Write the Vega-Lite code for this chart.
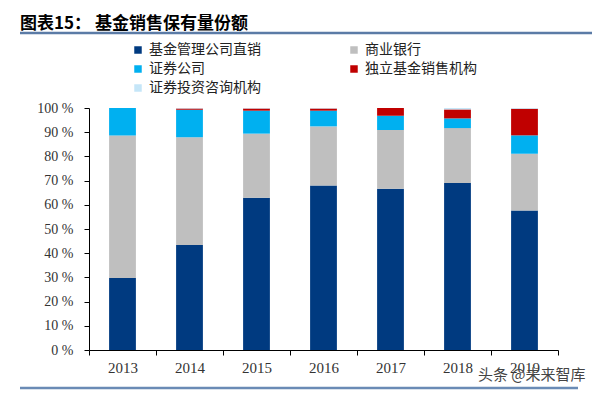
{
  "$schema": "https://vega.github.io/schema/vega-lite/v6.json",
  "width": 469,
  "height": 242,
  "autosize": "none",
  "padding": {"left": 89, "top": 108, "right": 42, "bottom": 43},
  "background": "white",
  "config": {"view": {"stroke": null}},
  "title": {
    "text": "图表15：  基金销售保有量份额",
    "anchor": "start",
    "frame": "group",
    "dx": -69,
    "dy": 11,
    "font": "Noto Sans CJK SC",
    "fontSize": 17,
    "fontWeight": "bold",
    "color": "#000000",
    "offset": 10
  },
  "layer": [
    {
      "data": {
        "values": [
          {"year": "2013", "type": "基金管理公司直销", "k": 1, "v": 29.8},
          {"year": "2013", "type": "商业银行", "k": 2, "v": 58.8},
          {"year": "2013", "type": "证券公司", "k": 3, "v": 11.4},
          {"year": "2013", "type": "独立基金销售机构", "k": 4, "v": 0},
          {"year": "2013", "type": "证券投资咨询机构", "k": 5, "v": 0},
          {"year": "2014", "type": "基金管理公司直销", "k": 1, "v": 43.4},
          {"year": "2014", "type": "商业银行", "k": 2, "v": 44.5},
          {"year": "2014", "type": "证券公司", "k": 3, "v": 11.4},
          {"year": "2014", "type": "独立基金销售机构", "k": 4, "v": 0.5},
          {"year": "2014", "type": "证券投资咨询机构", "k": 5, "v": 0.2},
          {"year": "2015", "type": "基金管理公司直销", "k": 1, "v": 62.9},
          {"year": "2015", "type": "商业银行", "k": 2, "v": 26.5},
          {"year": "2015", "type": "证券公司", "k": 3, "v": 9.5},
          {"year": "2015", "type": "独立基金销售机构", "k": 4, "v": 0.9},
          {"year": "2015", "type": "证券投资咨询机构", "k": 5, "v": 0.2},
          {"year": "2016", "type": "基金管理公司直销", "k": 1, "v": 68.0},
          {"year": "2016", "type": "商业银行", "k": 2, "v": 24.4},
          {"year": "2016", "type": "证券公司", "k": 3, "v": 6.5},
          {"year": "2016", "type": "独立基金销售机构", "k": 4, "v": 0.9},
          {"year": "2016", "type": "证券投资咨询机构", "k": 5, "v": 0.2},
          {"year": "2017", "type": "基金管理公司直销", "k": 1, "v": 66.6},
          {"year": "2017", "type": "商业银行", "k": 2, "v": 24.3},
          {"year": "2017", "type": "证券公司", "k": 3, "v": 5.9},
          {"year": "2017", "type": "独立基金销售机构", "k": 4, "v": 3.2},
          {"year": "2017", "type": "证券投资咨询机构", "k": 5, "v": 0},
          {"year": "2018", "type": "基金管理公司直销", "k": 1, "v": 69.0},
          {"year": "2018", "type": "商业银行", "k": 2, "v": 22.7},
          {"year": "2018", "type": "证券公司", "k": 3, "v": 4.0},
          {"year": "2018", "type": "独立基金销售机构", "k": 4, "v": 3.7},
          {"year": "2018", "type": "证券投资咨询机构", "k": 5, "v": 0.6},
          {"year": "2019", "type": "基金管理公司直销", "k": 1, "v": 57.6},
          {"year": "2019", "type": "商业银行", "k": 2, "v": 23.5},
          {"year": "2019", "type": "证券公司", "k": 3, "v": 7.6},
          {"year": "2019", "type": "独立基金销售机构", "k": 4, "v": 11.0},
          {"year": "2019", "type": "证券投资咨询机构", "k": 5, "v": 0.3}
        ]
      },
      "mark": {"type": "bar", "width": {"band": 0.4}},
      "encoding": {
        "x": {
          "field": "year",
          "type": "ordinal",
          "scale": {"paddingInner": 0, "paddingOuter": 0},
          "axis": {
            "title": null,
            "labelAngle": 0,
            "tickBand": "extent",
            "tickSize": 5,
            "labelPadding": 5,
            "domainColor": "#000000",
            "tickColor": "#000000",
            "labelFont": "Liberation Serif",
            "labelFontSize": 15,
            "labelColor": "#333333"
          }
        },
        "y": {
          "field": "v",
          "type": "quantitative",
          "stack": "zero",
          "scale": {"domain": [0, 100], "nice": false},
          "axis": {
            "title": null,
            "values": [0, 10, 20, 30, 40, 50, 60, 70, 80, 90, 100],
            "labelExpr": "datum.value + ' %'",
            "grid": false,
            "tickSize": 5,
            "labelPadding": 11,
            "domainColor": "#000000",
            "tickColor": "#000000",
            "labelFont": "Liberation Serif",
            "labelFontSize": 14,
            "labelColor": "#333333"
          }
        },
        "color": {
          "field": "type",
          "type": "nominal",
          "scale": {
            "domain": ["基金管理公司直销", "商业银行", "证券公司", "独立基金销售机构", "证券投资咨询机构"],
            "range": ["#003A80", "#BFBFBF", "#00B0F0", "#C00000", "#C5E6F8"]
          },
          "legend": {
            "title": null,
            "orient": "none",
            "legendX": 42,
            "legendY": -65,
            "columns": 2,
            "direction": "horizontal",
            "columnPadding": 86,
            "rowPadding": 5,
            "symbolType": "square",
            "symbolSize": 56,
            "symbolStrokeWidth": 0,
            "labelFont": "Noto Sans CJK SC",
            "labelFontSize": 14,
            "labelColor": "#222222",
            "labelOffset": 4
          }
        },
        "order": {"field": "k", "sort": "ascending"}
      }
    },
    {
      "data": {"values": [{}]},
      "mark": {"type": "rule", "color": "#5B7BA6", "strokeWidth": 2.5},
      "encoding": {"x": {"value": -69}, "x2": {"value": 503}, "y": {"value": -75}}
    },
    {
      "data": {"values": [{}]},
      "mark": {"type": "rule", "color": "#6A8BB5", "strokeWidth": 2.5},
      "encoding": {"x": {"value": -69}, "x2": {"value": 489}, "y": {"value": 280}}
    },
    {
      "data": {"values": [{"t": "头条 @未来智库"}]},
      "mark": {"type": "text", "font": "Noto Sans CJK SC", "fontSize": 15, "color": "#444444", "align": "left", "baseline": "middle"},
      "encoding": {"text": {"field": "t"}, "x": {"value": 389}, "y": {"value": 267}}
    }
  ]
}
